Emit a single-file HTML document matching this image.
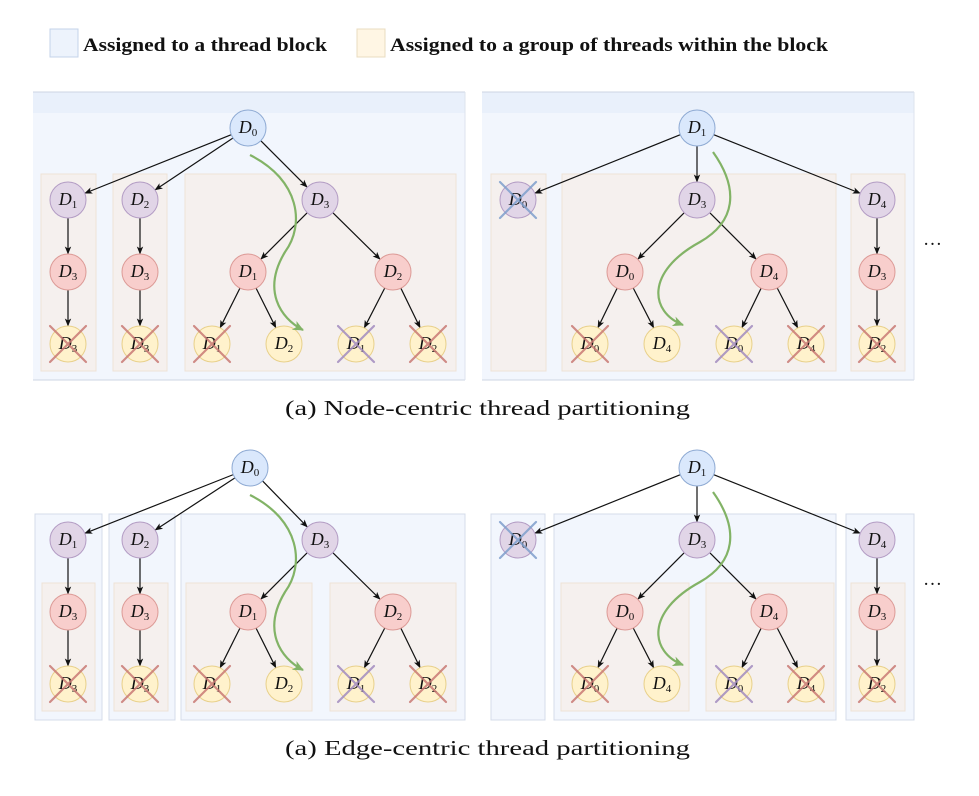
<!DOCTYPE html>
<html><head><meta charset="utf-8"><style>
html,body{margin:0;padding:0;background:#fff;width:979px;height:796px;overflow:hidden}
svg{display:block}
.t{font-family:"Liberation Serif",serif;fill:#111}
.n{font-family:"Liberation Serif",serif;font-style:italic;font-size:18px;fill:#111}
.s{font-style:normal;font-size:11px}
</style></head><body>
<svg id="g" width="979" height="796" viewBox="0 0 979 796" xmlns="http://www.w3.org/2000/svg">
<defs>
<marker id="a" markerWidth="8" markerHeight="8" refX="7" refY="4" orient="auto" markerUnits="userSpaceOnUse"><path d="M0,0.8 L8,4 L0,7.2 L2,4z" fill="#111"/></marker>
<marker id="ga" markerWidth="12" markerHeight="12" refX="10" refY="6" orient="auto" markerUnits="userSpaceOnUse"><path d="M0,1 L11,6 L0,11 L3,6z" fill="#82b366"/></marker>
</defs>
<!-- legend -->
<rect x="50" y="29" width="28" height="28" fill="#edf3fc" stroke="#c4d3ea"/>
<text class="t" x="83" y="51" font-size="19" font-weight="bold" textLength="244" lengthAdjust="spacingAndGlyphs">Assigned to a thread block</text>
<rect x="357" y="29" width="28" height="28" fill="#fff6e4" stroke="#eadcc0"/>
<text class="t" x="390" y="51" font-size="19" font-weight="bold" textLength="438" lengthAdjust="spacingAndGlyphs">Assigned to a group of threads within the block</text>

<!-- top panel blocks -->
<rect x="33" y="92" width="432" height="288" fill="#f2f6fd"/>
<rect x="33" y="92" width="432" height="21" fill="#e9f0fb"/>
<line x1="33" y1="380" x2="465" y2="380" stroke="#cdd5e3"/>
<line x1="33" y1="92" x2="465" y2="92" stroke="#cdd5e3"/>
<line x1="465" y1="92" x2="465" y2="380" stroke="#dde3ee"/>
<rect x="482" y="92" width="432" height="288" fill="#f2f6fd"/>
<rect x="482" y="92" width="432" height="21" fill="#e9f0fb"/>
<line x1="482" y1="380" x2="914" y2="380" stroke="#cdd5e3"/>
<line x1="482" y1="92" x2="914" y2="92" stroke="#cdd5e3"/>
<line x1="914" y1="92" x2="914" y2="380" stroke="#dde3ee"/>
<g fill="#f5f0ee" stroke="#efe3d6">
<rect x="41" y="174" width="55" height="197"/>
<rect x="113" y="174" width="54" height="197"/>
<rect x="185" y="174" width="271" height="197"/>
<rect x="491" y="174" width="55" height="197"/>
<rect x="562" y="174" width="274" height="197"/>
<rect x="851" y="174" width="54" height="197"/>
</g>
<!-- bottom panel blocks -->
<g fill="#f2f6fd" stroke="#d5dcea">
<rect x="35" y="514" width="67" height="206"/>
<rect x="109" y="514" width="66" height="206"/>
<rect x="181" y="514" width="284" height="206"/>
<rect x="491" y="514" width="54" height="206"/>
<rect x="554" y="514" width="282" height="206"/>
<rect x="846" y="514" width="68" height="206"/>
</g>
<g fill="#f5f0ee" stroke="#efe3d6">
<rect x="42" y="583" width="53" height="128"/>
<rect x="114" y="583" width="54" height="128"/>
<rect x="186" y="583" width="126" height="128"/>
<rect x="330" y="583" width="126" height="128"/>
<rect x="561" y="583" width="128" height="128"/>
<rect x="706" y="583" width="128" height="128"/>
<rect x="851" y="583" width="54" height="128"/>
</g>

<g id="edges"></g>

<g id="nodes" stroke-width="1">
<circle cx="248" cy="128" r="18" fill="#dae8fc" stroke="#8eaad3"/>
<circle cx="68" cy="200" r="18" fill="#e1d5e7" stroke="#b39cc4"/>
<circle cx="140" cy="200" r="18" fill="#e1d5e7" stroke="#b39cc4"/>
<circle cx="320" cy="200" r="18" fill="#e1d5e7" stroke="#b39cc4"/>
<circle cx="68" cy="272" r="18" fill="#f8cecc" stroke="#dc9a96"/>
<circle cx="140" cy="272" r="18" fill="#f8cecc" stroke="#dc9a96"/>
<circle cx="248" cy="272" r="18" fill="#f8cecc" stroke="#dc9a96"/>
<circle cx="393" cy="272" r="18" fill="#f8cecc" stroke="#dc9a96"/>
<circle cx="68" cy="344" r="18" fill="#fff2cc" stroke="#e8d08a"/>
<circle cx="140" cy="344" r="18" fill="#fff2cc" stroke="#e8d08a"/>
<circle cx="212" cy="344" r="18" fill="#fff2cc" stroke="#e8d08a"/>
<circle cx="284" cy="344" r="18" fill="#fff2cc" stroke="#e8d08a"/>
<circle cx="356" cy="344" r="18" fill="#fff2cc" stroke="#e8d08a"/>
<circle cx="428" cy="344" r="18" fill="#fff2cc" stroke="#e8d08a"/>
<circle cx="697" cy="128" r="18" fill="#dae8fc" stroke="#8eaad3"/>
<circle cx="518" cy="200" r="18" fill="#e1d5e7" stroke="#b39cc4"/>
<circle cx="697" cy="200" r="18" fill="#e1d5e7" stroke="#b39cc4"/>
<circle cx="877" cy="200" r="18" fill="#e1d5e7" stroke="#b39cc4"/>
<circle cx="625" cy="272" r="18" fill="#f8cecc" stroke="#dc9a96"/>
<circle cx="769" cy="272" r="18" fill="#f8cecc" stroke="#dc9a96"/>
<circle cx="877" cy="272" r="18" fill="#f8cecc" stroke="#dc9a96"/>
<circle cx="590" cy="344" r="18" fill="#fff2cc" stroke="#e8d08a"/>
<circle cx="662" cy="344" r="18" fill="#fff2cc" stroke="#e8d08a"/>
<circle cx="734" cy="344" r="18" fill="#fff2cc" stroke="#e8d08a"/>
<circle cx="806" cy="344" r="18" fill="#fff2cc" stroke="#e8d08a"/>
<circle cx="877" cy="344" r="18" fill="#fff2cc" stroke="#e8d08a"/>
<circle cx="250" cy="468" r="18" fill="#dae8fc" stroke="#8eaad3"/>
<circle cx="68" cy="540" r="18" fill="#e1d5e7" stroke="#b39cc4"/>
<circle cx="140" cy="540" r="18" fill="#e1d5e7" stroke="#b39cc4"/>
<circle cx="320" cy="540" r="18" fill="#e1d5e7" stroke="#b39cc4"/>
<circle cx="68" cy="612" r="18" fill="#f8cecc" stroke="#dc9a96"/>
<circle cx="140" cy="612" r="18" fill="#f8cecc" stroke="#dc9a96"/>
<circle cx="248" cy="612" r="18" fill="#f8cecc" stroke="#dc9a96"/>
<circle cx="393" cy="612" r="18" fill="#f8cecc" stroke="#dc9a96"/>
<circle cx="68" cy="684" r="18" fill="#fff2cc" stroke="#e8d08a"/>
<circle cx="140" cy="684" r="18" fill="#fff2cc" stroke="#e8d08a"/>
<circle cx="212" cy="684" r="18" fill="#fff2cc" stroke="#e8d08a"/>
<circle cx="284" cy="684" r="18" fill="#fff2cc" stroke="#e8d08a"/>
<circle cx="356" cy="684" r="18" fill="#fff2cc" stroke="#e8d08a"/>
<circle cx="428" cy="684" r="18" fill="#fff2cc" stroke="#e8d08a"/>
<circle cx="697" cy="468" r="18" fill="#dae8fc" stroke="#8eaad3"/>
<circle cx="518" cy="540" r="18" fill="#e1d5e7" stroke="#b39cc4"/>
<circle cx="697" cy="540" r="18" fill="#e1d5e7" stroke="#b39cc4"/>
<circle cx="877" cy="540" r="18" fill="#e1d5e7" stroke="#b39cc4"/>
<circle cx="625" cy="612" r="18" fill="#f8cecc" stroke="#dc9a96"/>
<circle cx="769" cy="612" r="18" fill="#f8cecc" stroke="#dc9a96"/>
<circle cx="877" cy="612" r="18" fill="#f8cecc" stroke="#dc9a96"/>
<circle cx="590" cy="684" r="18" fill="#fff2cc" stroke="#e8d08a"/>
<circle cx="662" cy="684" r="18" fill="#fff2cc" stroke="#e8d08a"/>
<circle cx="734" cy="684" r="18" fill="#fff2cc" stroke="#e8d08a"/>
<circle cx="806" cy="684" r="18" fill="#fff2cc" stroke="#e8d08a"/>
<circle cx="877" cy="684" r="18" fill="#fff2cc" stroke="#e8d08a"/>
</g>

<g class="n" text-anchor="middle">
<text x="248" y="133">D<tspan class="s" dy="3">0</tspan></text>
<text x="68" y="205">D<tspan class="s" dy="3">1</tspan></text>
<text x="140" y="205">D<tspan class="s" dy="3">2</tspan></text>
<text x="320" y="205">D<tspan class="s" dy="3">3</tspan></text>
<text x="68" y="277">D<tspan class="s" dy="3">3</tspan></text>
<text x="140" y="277">D<tspan class="s" dy="3">3</tspan></text>
<text x="248" y="277">D<tspan class="s" dy="3">1</tspan></text>
<text x="393" y="277">D<tspan class="s" dy="3">2</tspan></text>
<text x="68" y="349">D<tspan class="s" dy="3">3</tspan></text>
<text x="140" y="349">D<tspan class="s" dy="3">3</tspan></text>
<text x="212" y="349">D<tspan class="s" dy="3">1</tspan></text>
<text x="284" y="349">D<tspan class="s" dy="3">2</tspan></text>
<text x="356" y="349">D<tspan class="s" dy="3">1</tspan></text>
<text x="428" y="349">D<tspan class="s" dy="3">2</tspan></text>

<text x="697" y="133">D<tspan class="s" dy="3">1</tspan></text>
<text x="518" y="205">D<tspan class="s" dy="3">0</tspan></text>
<text x="697" y="205">D<tspan class="s" dy="3">3</tspan></text>
<text x="877" y="205">D<tspan class="s" dy="3">4</tspan></text>
<text x="625" y="277">D<tspan class="s" dy="3">0</tspan></text>
<text x="769" y="277">D<tspan class="s" dy="3">4</tspan></text>
<text x="877" y="277">D<tspan class="s" dy="3">3</tspan></text>
<text x="590" y="349">D<tspan class="s" dy="3">0</tspan></text>
<text x="662" y="349">D<tspan class="s" dy="3">4</tspan></text>
<text x="734" y="349">D<tspan class="s" dy="3">0</tspan></text>
<text x="806" y="349">D<tspan class="s" dy="3">4</tspan></text>
<text x="877" y="349">D<tspan class="s" dy="3">2</tspan></text>

<text x="250" y="473">D<tspan class="s" dy="3">0</tspan></text>
<text x="68" y="545">D<tspan class="s" dy="3">1</tspan></text>
<text x="140" y="545">D<tspan class="s" dy="3">2</tspan></text>
<text x="320" y="545">D<tspan class="s" dy="3">3</tspan></text>
<text x="68" y="617">D<tspan class="s" dy="3">3</tspan></text>
<text x="140" y="617">D<tspan class="s" dy="3">3</tspan></text>
<text x="248" y="617">D<tspan class="s" dy="3">1</tspan></text>
<text x="393" y="617">D<tspan class="s" dy="3">2</tspan></text>
<text x="68" y="689">D<tspan class="s" dy="3">3</tspan></text>
<text x="140" y="689">D<tspan class="s" dy="3">3</tspan></text>
<text x="212" y="689">D<tspan class="s" dy="3">1</tspan></text>
<text x="284" y="689">D<tspan class="s" dy="3">2</tspan></text>
<text x="356" y="689">D<tspan class="s" dy="3">1</tspan></text>
<text x="428" y="689">D<tspan class="s" dy="3">2</tspan></text>

<text x="697" y="473">D<tspan class="s" dy="3">1</tspan></text>
<text x="518" y="545">D<tspan class="s" dy="3">0</tspan></text>
<text x="697" y="545">D<tspan class="s" dy="3">3</tspan></text>
<text x="877" y="545">D<tspan class="s" dy="3">4</tspan></text>
<text x="625" y="617">D<tspan class="s" dy="3">0</tspan></text>
<text x="769" y="617">D<tspan class="s" dy="3">4</tspan></text>
<text x="877" y="617">D<tspan class="s" dy="3">3</tspan></text>
<text x="590" y="689">D<tspan class="s" dy="3">0</tspan></text>
<text x="662" y="689">D<tspan class="s" dy="3">4</tspan></text>
<text x="734" y="689">D<tspan class="s" dy="3">0</tspan></text>
<text x="806" y="689">D<tspan class="s" dy="3">4</tspan></text>
<text x="877" y="689">D<tspan class="s" dy="3">2</tspan></text>
</g>

<g id="crosses" stroke-width="2.2" stroke-linecap="round" opacity="0.85"></g>

<g fill="none" stroke="#82b366" stroke-width="2.2">
<path d="M250,155 C300,180 305,225 285,252 C262,290 280,318 303,330" marker-end="url(#ga)"/>
<path d="M713,152 C740,190 735,222 700,242 C645,272 650,312 683,325" marker-end="url(#ga)"/>
<path d="M250,495 C300,520 305,565 285,592 C262,630 280,658 303,670" marker-end="url(#ga)"/>
<path d="M713,492 C740,530 735,562 700,582 C645,612 650,652 683,665" marker-end="url(#ga)"/>
</g>

<text class="t" x="923" y="245" font-size="19">…</text>
<text class="t" x="923" y="585" font-size="19">…</text>
<text class="t" x="285" y="415" font-size="21" textLength="405" lengthAdjust="spacingAndGlyphs">(a) Node-centric thread partitioning</text>
<text class="t" x="285" y="755" font-size="21" textLength="405" lengthAdjust="spacingAndGlyphs">(a) Edge-centric thread partitioning</text>
</svg>
<script>
var NS="http://www.w3.org/2000/svg";
function ln(g,x1,y1,x2,y2,attrs){var l=document.createElementNS(NS,"line");l.setAttribute("x1",x1);l.setAttribute("y1",y1);l.setAttribute("x2",x2);l.setAttribute("y2",y2);for(var k in attrs)l.setAttribute(k,attrs[k]);g.appendChild(l);}
var E=document.getElementById("edges");
function edge(a,b,c,d){var dx=c-a,dy=d-b,L=Math.sqrt(dx*dx+dy*dy),ux=dx/L,uy=dy/L;ln(E,a+ux*18,b+uy*18,c-ux*18.5,d-uy*18.5,{stroke:"#111","stroke-width":1.2,"marker-end":"url(#a)"});}
function tree(r,y0){
 edge(r,y0,68,y0+72);edge(r,y0,140,y0+72);edge(r,y0,320,y0+72);
 edge(68,y0+72,68,y0+144);edge(140,y0+72,140,y0+144);
 edge(68,y0+144,68,y0+216);edge(140,y0+144,140,y0+216);
 edge(320,y0+72,248,y0+144);edge(320,y0+72,393,y0+144);
 edge(248,y0+144,212,y0+216);edge(248,y0+144,284,y0+216);
 edge(393,y0+144,356,y0+216);edge(393,y0+144,428,y0+216);
}
function treeR(y0){
 edge(697,y0,518,y0+72);edge(697,y0,697,y0+72);edge(697,y0,877,y0+72);
 edge(697,y0+72,625,y0+144);edge(697,y0+72,769,y0+144);
 edge(877,y0+72,877,y0+144);edge(877,y0+144,877,y0+216);
 edge(625,y0+144,590,y0+216);edge(625,y0+144,662,y0+216);
 edge(769,y0+144,734,y0+216);edge(769,y0+144,806,y0+216);
}
tree(248,128);tree(250,468);treeR(128);treeR(468);
var C=document.getElementById("crosses");
var red="#c97a74",pur="#a28cc0",blu="#7f9fcc";
function X(x,y,c){ln(C,x-18,y-18,x+18,y+18,{stroke:c});ln(C,x+18,y-18,x-18,y+18,{stroke:c});}
[128,468].forEach(function(y0){
 var y=y0+216;
 X(68,y,red);X(140,y,red);X(212,y,red);X(356,y,pur);X(428,y,red);
 X(590,y,red);X(734,y,pur);X(806,y,red);X(877,y,red);
 X(518,y0+72,blu);
});
</script>
</body></html>
